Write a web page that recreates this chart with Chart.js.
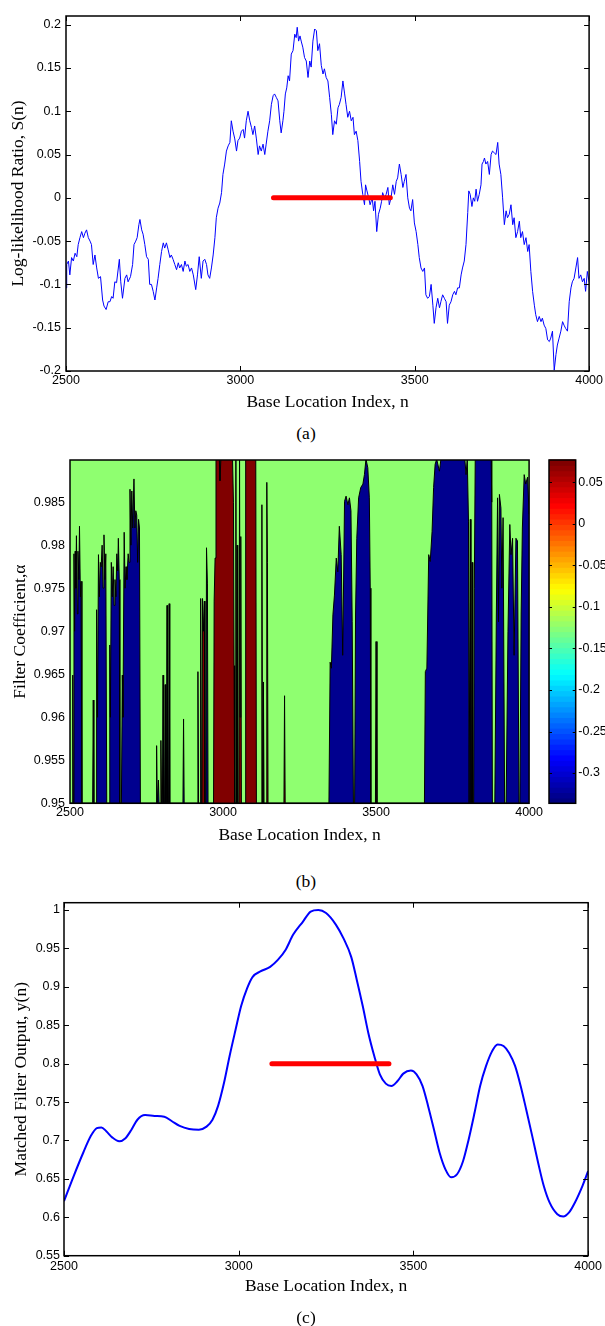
<!DOCTYPE html>
<html>
<head>
<meta charset="utf-8">
<script src="https://cdn.jsdelivr.net/npm/chart.js@4.4.1/dist/chart.umd.min.js"></script>
<style>
  body { margin: 0; background: #fff; width: 605px; height: 1326px; position: relative; overflow: hidden; }
  canvas { position: absolute; }
  .cap { position: absolute; font: 17.5px 'Liberation Serif', 'Times New Roman', serif; color: #000;
         transform: translate(-50%, -50%); white-space: nowrap; }
</style>
</head>
<body>
<canvas id="llr" width="605" height="420" style="left:0;top:0"></canvas>
<div class="cap" style="left:306px;top:433px">(a)</div>
<canvas id="coef" width="545" height="420" style="left:0;top:440px"></canvas>
<canvas id="cbar" width="65" height="420" style="left:540px;top:440px"></canvas>
<div class="cap" style="left:306px;top:881px">(b)</div>
<canvas id="mf" width="605" height="446" style="left:0;top:880px"></canvas>
<div class="cap" style="left:306px;top:1317px">(c)</div>

<script>
// ---- data ----
var xTicks = [2500, 3000, 3500, 4000];

// (a) log-likelihood ratio S(n)
var llrN = [2500,2502,2507,2511,2516,2521,2526,2531,2535,2540,2545,2550,2554,2559,2564,2569,2573,2578,2583,2588,
  2593,2599,2605,2609,2615,2621,2626,2631,2635,2640,2645,2653,2657,2662,2669,2674,2678,2685,2691,2695,
  2700,2704,2709,2712,2717,2721,2726,2731,2736,2740,2745,2750,2755,2760,2764,2769,2774,2779,2783,2788,
  2793,2798,2802,2807,2812,2817,2822,2826,2831,2836,2841,2845,2850,2855,2860,2865,2872,2877,2882,2888,
  2893,2898,2903,2907,2912,2917,2922,2927,2931,2936,2941,2946,2950,2955,2960,2965,2970,2974,2979,2984,
  2989,2993,2998,3003,3008,3012,3017,3022,3027,3032,3036,3041,3046,3051,3055,3060,3065,3070,3074,3079,
  3084,3089,3094,3098,3103,3108,3113,3117,3122,3125,3129,3133,3137,3141,3146,3151,3156,3160,3163,3167,
  3171,3175,3179,3184,3189,3194,3199,3203,3208,3213,3218,3222,3227,3232,3237,3241,3246,3251,3256,3261,
  3265,3270,3275,3280,3284,3289,3294,3299,3303,3308,3313,3318,3323,3327,3332,3337,3342,3346,3351,3356,
  3359,3363,3368,3372,3378,3382,3386,3391,3396,3401,3405,3408,3413,3418,3423,3427,3432,3437,3442,3447,
  3451,3456,3461,3466,3470,3475,3480,3485,3489,3494,3499,3504,3509,3513,3518,3523,3528,3532,3537,3542,
  3547,3552,3556,3561,3566,3571,3575,3580,3585,3590,3594,3599,3604,3609,3614,3618,3623,3628,3633,3637,
  3642,3647,3652,3655,3659,3664,3668,3672,3676,3680,3685,3690,3693,3697,3700,3704,3709,3714,3719,3723,
  3728,3733,3738,3742,3747,3752,3757,3762,3766,3771,3776,3781,3785,3790,3795,3800,3804,3809,3814,3819,
  3824,3828,3833,3838,3843,3847,3852,3857,3862,3866,3871,3876,3881,3886,3890,3895,3900,3905,3909,3914,
  3919,3924,3928,3933,3938,3943,3948,3952,3957,3962,3967,3971,3976,3981,3986,3990,3995,4000];
var llrS = [-0.104,-0.077,-0.073,-0.089,-0.069,-0.073,-0.064,-0.068,-0.054,-0.046,-0.039,-0.046,-0.041,-0.037,-0.046,-0.050,-0.054,-0.077,-0.066,-0.081,
  -0.093,-0.091,-0.118,-0.125,-0.129,-0.120,-0.120,-0.114,-0.116,-0.097,-0.098,-0.071,-0.097,-0.116,-0.093,-0.089,-0.097,-0.091,-0.077,-0.054,
  -0.050,-0.046,-0.031,-0.025,-0.037,-0.042,-0.054,-0.068,-0.071,-0.100,-0.100,-0.108,-0.118,-0.104,-0.093,-0.077,-0.062,-0.052,-0.058,-0.052,
  -0.060,-0.069,-0.066,-0.071,-0.077,-0.083,-0.075,-0.081,-0.077,-0.085,-0.073,-0.079,-0.077,-0.085,-0.081,-0.089,-0.106,-0.089,-0.068,-0.093,
  -0.073,-0.071,-0.077,-0.089,-0.093,-0.081,-0.066,-0.046,-0.023,-0.012,-0.006,0.006,0.027,0.039,0.054,0.060,0.064,0.089,0.077,0.068,
  0.054,0.066,0.069,0.077,0.079,0.069,0.089,0.100,0.089,0.081,0.073,0.083,0.068,0.050,0.060,0.054,0.062,0.050,0.062,0.077,
  0.089,0.108,0.118,0.120,0.116,0.112,0.089,0.075,0.089,0.100,0.120,0.127,0.141,0.135,0.166,0.170,0.189,0.185,0.197,0.181,
  0.187,0.180,0.174,0.162,0.158,0.139,0.158,0.151,0.181,0.195,0.193,0.170,0.178,0.153,0.143,0.149,0.139,0.135,0.116,0.096,
  0.073,0.089,0.085,0.104,0.108,0.116,0.135,0.120,0.108,0.093,0.100,0.089,0.093,0.073,0.077,0.066,0.042,0.019,0.004,-0.008,
  0.015,0.008,0.000,-0.008,0.000,-0.015,-0.004,-0.039,-0.019,-0.012,-0.004,0.006,0.000,0.004,0.012,-0.008,0.000,0.015,0.004,0.019,
  0.023,0.039,0.027,0.012,0.019,0.027,0.000,-0.012,-0.015,-0.002,-0.029,-0.039,-0.054,-0.069,-0.081,-0.085,-0.081,-0.112,-0.116,-0.114,
  -0.100,-0.124,-0.145,-0.127,-0.116,-0.127,-0.120,-0.112,-0.116,-0.120,-0.145,-0.124,-0.120,-0.112,-0.108,-0.112,-0.104,-0.104,-0.089,-0.081,
  -0.073,-0.054,-0.017,0.008,0.004,-0.010,0.000,-0.004,0.010,-0.004,0.004,0.015,0.039,0.042,0.046,0.039,0.042,0.027,0.050,0.054,
  0.052,0.050,0.064,0.039,0.027,0.000,-0.031,-0.015,-0.023,-0.019,-0.008,-0.031,-0.023,-0.046,-0.039,-0.027,-0.046,-0.039,-0.054,-0.046,
  -0.062,-0.054,-0.085,-0.108,-0.124,-0.135,-0.143,-0.137,-0.143,-0.139,-0.147,-0.151,-0.164,-0.166,-0.162,-0.154,-0.199,-0.181,-0.170,-0.162,
  -0.154,-0.143,-0.147,-0.151,-0.154,-0.120,-0.104,-0.097,-0.093,-0.081,-0.069,-0.093,-0.089,-0.097,-0.093,-0.108,-0.085,-0.097];

// detected segment (red bar) and its levels in (a) and (c)
var detectSpan = [3095, 3430];
var llrLevel = 0;
var mfLevel = 0.8;

// (b) filter coefficient map: upper edge of the low (blue) and high (red) regions
var blueN = [2500,2507,2509,2511,2513,2515,2517,2519,2521,2524,2526,2529,2531,2534,2536,2539,
  2574,2576,2578,2585,2587,2590,2593,2596,2599,2602,2605,2608,2611,2614,2617,2620,
  2628,2630,2632,2635,2638,2641,2644,2647,2650,2653,2656,2658,2661,2663,
  2668,2671,2673,2677,2680,2683,2686,2690,2693,2696,2699,2702,2705,2709,2712,2715,2718,2721,2724,2727,2730,
  2781,2783,2785,2787,2789,2791,2802,2804,2806,2809,2811,2813,2815,2817,2819,2822,2824,2826,
  2869,2871,2873,2916,2918,2920,2925,2927,2929,2944,2946,2949,2951,
  3346,3350,3354,3359,3364,3370,3375,3380,3386,3391,3397,3402,3408,3413,3418,3422,3426,
  3430,3433,3437,3443,3450,3457,3462,3467,3473,3478,3481,3483,
  3658,3661,3666,3672,3677,3683,3688,3693,3698,3707,3712,3790,3794,3798,3802,3804,
  3806,3808,3810,3812,3814,3816,3819,3821,3824,3876,3878,3880,
  3888,3893,3897,3900,3903,3908,3911,3915,3920,
  3925,3931,3937,3941,3946,3951,3957,3962,3967,
  3970,3974,3978,3984,3989,3995,4000];
var blueA = [0.95,0.95,0.9649,0.95,0.979,0.970,0.9793,0.975,0.9811,0.972,0.9793,0.976,0.9822,0.974,0.9758,0.95,
  0.95,0.962,0.95,0.95,0.9725,0.960,0.9789,0.974,0.978,0.9775,0.980,0.975,0.9812,0.976,0.979,0.95,
  0.95,0.9684,0.960,0.978,0.974,0.9775,0.973,0.976,0.974,0.979,0.977,0.9808,0.976,0.95,
  0.95,0.9649,0.960,0.9815,0.975,0.9775,0.976,0.979,0.978,0.9865,0.980,0.9863,0.982,0.9877,0.982,0.984,0.9835,0.978,0.983,0.982,0.95,
  0.95,0.9567,0.95,0.95,0.9527,0.95,0.95,0.9649,0.95,0.95,0.9638,0.95,0.95,0.973,0.95,0.95,0.9732,0.95,
  0.95,0.9598,0.95,0.95,0.9653,0.95,0.95,0.9738,0.95,0.95,0.9797,0.9755,0.95,
  0.95,0.9664,0.9657,0.9719,0.9742,0.9785,0.9769,0.9822,0.9789,0.9672,0.9851,0.9857,0.9847,0.9855,0.984,0.9711,0.95,
  0.95,0.972,0.9808,0.9855,0.9867,0.9871,0.9882,0.99,0.989,0.9855,0.975,0.95,
  0.95,0.9653,0.9657,0.9789,0.9781,0.9816,0.9867,0.9894,0.99,0.9886,0.99,0.99,0.9882,0.99,0.9828,0.95,
  0.95,0.983,0.95,0.95,0.978,0.95,0.95,0.975,0.99,0.99,0.985,0.95,
  0.95,0.972,0.9855,0.9711,0.9859,0.9843,0.975,0.9832,0.95,
  0.95,0.970,0.9824,0.9789,0.9808,0.9672,0.9808,0.9805,0.95,
  0.95,0.972,0.982,0.9882,0.9871,0.9879,0.9836];
var redN = [2500,2795,2797,2799,2931,2933,2936,2939,2941,2969,2971,2974,2977,2988,2990,2993,3031,3034,3036,3038,
  3040,3042,3044,3046,3048,3052,3054,3056,3058,3060,3072,3074,3107,3109,3125,3127,3129,3131,3132,3134,
  3141,3143,3145,3147,3199,3201,3203,3498,3500,3503,4000];
var redA = [0.95,0.95,0.9573,0.95,0.95,0.9738,0.970,0.9735,0.95,0.95,0.9735,0.9785,0.99,0.99,0.9875,0.99,0.99,0.985,0.966,0.95,
  0.95,0.99,0.95,0.98,0.95,0.95,0.99,0.96,0.981,0.95,0.95,0.99,0.99,0.95,0.95,0.9847,0.95,0.95,0.9641,0.95,
  0.95,0.9873,0.978,0.95,0.95,0.9625,0.95,0.95,0.9688,0.95,0.95];
var cbarRange = [-0.3365, 0.0771];

// (c) matched filter output y(n)
var mfN = [2500,2528,2555,2577,2594,2607,2621,2638,2658,2676,2693,2710,2732,2759,2787,2809,2831,2858,2886,2908,
  2925,2941,2958,2974,2991,3007,3024,3040,3062,3090,3112,3134,3156,3184,3206,3228,3250,3278,3300,3322,
  3338,3355,3371,3388,3404,3421,3437,3454,3471,3493,3509,3526,3542,3559,3575,3592,3608,3625,3642,3658,
  3675,3691,3708,3725,3741,3758,3774,3791,3807,3823,3840,3857,3873,3890,3912,3929,3945,3962,3984,4000];
var mfY = [0.621,0.654,0.684,0.706,0.716,0.717,0.712,0.704,0.699,0.703,0.714,0.727,0.733,0.732,0.731,0.725,0.719,0.715,0.714,0.718,
  0.727,0.745,0.775,0.810,0.844,0.875,0.898,0.913,0.920,0.926,0.935,0.948,0.968,0.985,0.998,1.000,0.996,0.981,0.963,0.939,
  0.909,0.875,0.840,0.810,0.786,0.774,0.771,0.777,0.787,0.791,0.786,0.771,0.745,0.714,0.684,0.662,0.652,0.656,0.673,0.701,
  0.736,0.771,0.797,0.816,0.825,0.823,0.814,0.797,0.771,0.740,0.706,0.671,0.641,0.619,0.604,0.601,0.606,0.619,0.641,0.660];

// ---- helpers ----
var tickFont = { family: "'Liberation Sans', Arial, sans-serif", size: 12.5 };
var titleFont = { family: "'Liberation Serif', 'Times New Roman', serif", size: 17.5 };

function pts(xs, ys) { return xs.map(function (x, i) { return { x: x, y: ys[i] }; }); }
function seg(span, level) { return [{ x: span[0], y: level }, { x: span[1], y: level }]; }
function dec(d) { return function (v) { return String(parseFloat(v.toFixed(d))); }; }

function jet(t) {
  var c = function (v) { return Math.round(255 * Math.max(0, Math.min(1, v))); };
  return 'rgb(' + c(1.5 - Math.abs(4 * t - 3)) + ',' + c(1.5 - Math.abs(4 * t - 2)) + ',' + c(1.5 - Math.abs(4 * t - 1)) + ')';
}

// frame, inward ticks, background fill and colour bar
Chart.register({
  id: 'box',
  beforeDatasetsDraw: function (chart, args, o) {
    var a = chart.chartArea, ctx = chart.ctx;
    ctx.save();
    if (o.fill) {
      ctx.fillStyle = o.fill;
      ctx.fillRect(a.left, a.top, a.right - a.left, a.bottom - a.top);
    }
    if (o.jet) {
      var y = chart.scales.y, lo = o.jet[0], hi = o.jet[1], n = 64;
      for (var i = 0; i < n; i++) {
        var v0 = lo + (hi - lo) * i / n, v1 = lo + (hi - lo) * (i + 1) / n;
        var p0 = y.getPixelForValue(v0), p1 = y.getPixelForValue(v1);
        ctx.fillStyle = jet(i / (n - 1));
        ctx.fillRect(a.left, p1 - 0.5, a.right - a.left, p0 - p1 + 1);
      }
    }
    ctx.restore();
  },
  afterDraw: function (chart, args, o) {
    var a = chart.chartArea, ctx = chart.ctx, len = o.len || 0;
    ctx.save();
    ctx.strokeStyle = '#000';
    ctx.lineWidth = 1;
    ctx.beginPath();
    if (len) {
      if (o.xTicks !== false) {
        chart.scales.x.ticks.forEach(function (t) {
          var px = Math.round(chart.scales.x.getPixelForValue(t.value)) + 0.5;
          ctx.moveTo(px, a.bottom); ctx.lineTo(px, a.bottom - len);
          ctx.moveTo(px, a.top); ctx.lineTo(px, a.top + len);
        });
      }
      chart.scales.y.ticks.forEach(function (t) {
        var py = Math.round(chart.scales.y.getPixelForValue(t.value)) + 0.5;
        ctx.moveTo(a.left, py); ctx.lineTo(a.left + len, py);
        ctx.moveTo(a.right, py); ctx.lineTo(a.right - len, py);
      });
    }
    ctx.stroke();
    ctx.lineWidth = 1.5;
    ctx.strokeRect(a.left, a.top, a.right - a.left, a.bottom - a.top);
    ctx.restore();
  }
});

function xScale(h, pad) {
  return {
    type: 'linear', min: 2500, max: 4000,
    afterBuildTicks: function (s) { s.ticks = xTicks.map(function (v) { return { value: v }; }); },
    ticks: { callback: function (v) { return String(v); }, font: tickFont, color: '#000', padding: pad, maxRotation: 0, autoSkip: false },
    grid: { display: false, drawTicks: false }, border: { display: false },
    title: { display: true, text: 'Base Location Index, n', font: titleFont, color: '#000', padding: 0 },
    afterFit: function (s) { s.height = h; }
  };
}
function yScale(min, max, step, d, w, title, pad) {
  return {
    type: 'linear', min: min, max: max,
    ticks: { stepSize: step, includeBounds: false, callback: dec(d), font: tickFont, color: '#000', padding: pad },
    grid: { display: false, drawTicks: false }, border: { display: false },
    title: { display: !!title, text: title, font: titleFont, color: '#000', padding: 0 },
    afterFit: function (s) { s.width = w; }
  };
}
var base = {
  responsive: false, animation: false, devicePixelRatio: 1,
  elements: { point: { radius: 0 }, line: { tension: 0 } },
  plugins: { legend: { display: false }, tooltip: { enabled: false } }
};
function opts(extra) { return Object.assign({}, base, extra); }

// ---- (a) ----
new Chart(document.getElementById('llr'), {
  type: 'line',
  data: { datasets: [
    { data: seg(detectSpan, llrLevel), borderColor: '#ff0000', borderWidth: 5, borderCapStyle: 'round', order: 0 },
    { data: pts(llrN, llrS), borderColor: '#0000ff', borderWidth: 1, order: 1 }
  ] },
  options: opts({
    layout: { padding: { top: 16, right: 15, bottom: 7.5, left: 8 } },
    scales: { x: xScale(41.5, 2), y: yScale(-0.2, 0.21, 0.05, 2, 58, 'Log-likelihood Ratio, S(n)', 5) },
    plugins: { legend: { display: false }, tooltip: { enabled: false }, box: { len: 5 } }
  })
});

// ---- (b) ----
new Chart(document.getElementById('coef'), {
  type: 'line',
  data: { datasets: [
    { data: pts(redN, redA), borderColor: '#000', borderWidth: 1, backgroundColor: '#800000', fill: 'start' },
    { data: pts(blueN, blueA), borderColor: '#000', borderWidth: 1, backgroundColor: '#00008f', fill: 'start' }
  ] },
  options: opts({
    layout: { padding: { top: 20, right: 15, bottom: 14.5, left: 9.5 } },
    scales: { x: xScale(42.2, 2), y: yScale(0.95, 0.9899, 0.005, 3, 60.5, 'Filter Coefficient,\u03b1', 5) },
    plugins: { legend: { display: false }, tooltip: { enabled: false }, box: { fill: 'rgb(143,255,112)' } }
  })
});

// colour bar of (b)
new Chart(document.getElementById('cbar'), {
  type: 'line',
  data: { datasets: [] },
  options: opts({
    layout: { padding: { top: 20, right: 0, bottom: 56.7, left: 9 } },
    scales: {
      x: { type: 'linear', display: false, min: 0, max: 1 },
      y: Object.assign(yScale(cbarRange[0], cbarRange[1], 0.05, 2, 29.3, '', 2.6), { position: 'right' })
    },
    plugins: { legend: { display: false }, tooltip: { enabled: false }, box: { jet: cbarRange, len: 3, xTicks: false } }
  })
});

// ---- (c) ----
new Chart(document.getElementById('mf'), {
  type: 'line',
  data: { datasets: [
    { data: seg(detectSpan, mfLevel), borderColor: '#ff0000', borderWidth: 5, borderCapStyle: 'round', order: 0 },
    { data: pts(mfN, mfY), borderColor: '#0000ff', borderWidth: 2, cubicInterpolationMode: 'monotone', order: 1 }
  ] },
  options: opts({
    layout: { padding: { top: 22.7, right: 15, bottom: 28.8, left: 11.2 } },
    scales: { x: xScale(41.5, 3), y: yScale(0.55, 1.0095, 0.05, 2, 52.8, 'Matched Filter Output, y(n)', 4) },
    plugins: { legend: { display: false }, tooltip: { enabled: false }, box: { len: 5 } }
  })
});
</script>
</body>
</html>
